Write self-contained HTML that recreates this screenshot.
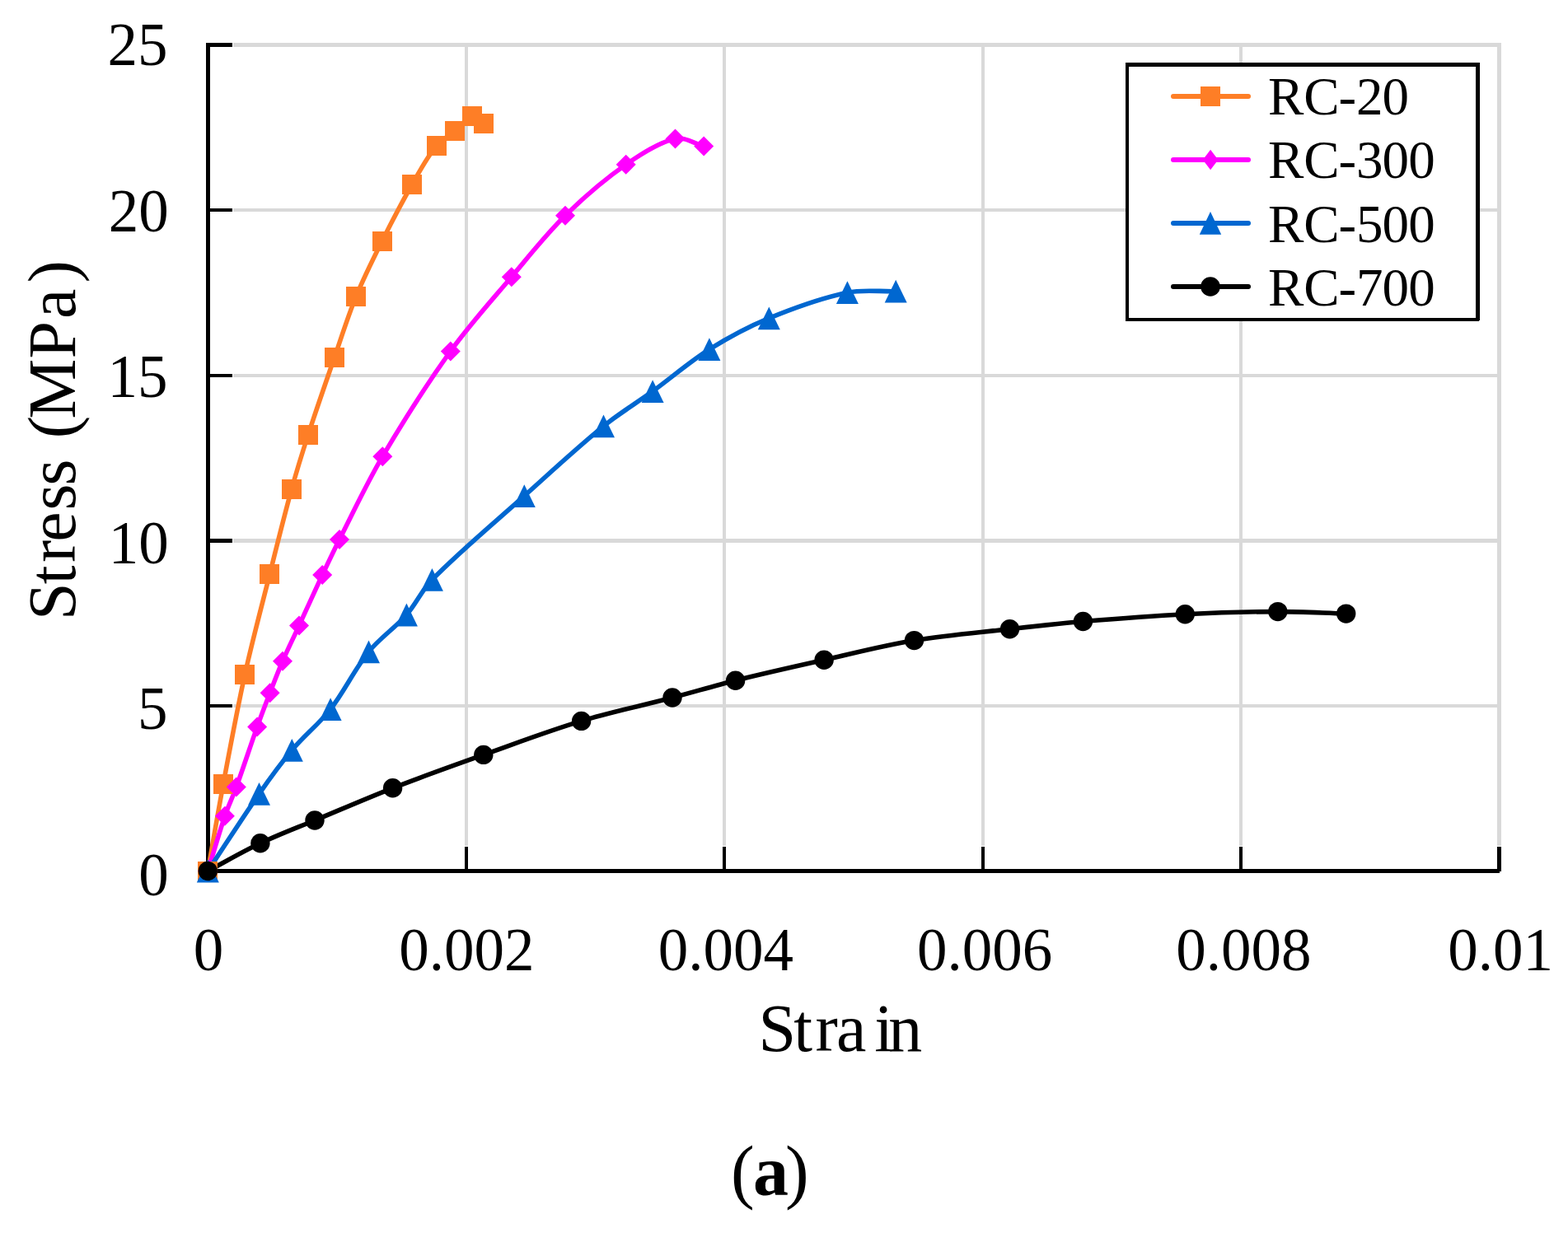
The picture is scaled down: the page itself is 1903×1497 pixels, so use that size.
<!DOCTYPE html><html><head><meta charset="utf-8"><title>Stress-strain curves</title><style>html,body{margin:0;padding:0;background:#fff;}svg{display:block;}text{font-family:"Liberation Serif","Times New Roman",serif;fill:#000;}</style></head><body>
<svg width="1903" height="1497" viewBox="0 0 1903 1497">
<rect width="1903" height="1497" fill="#fff"/>
<g fill="#D9D9D9"><rect x="283" y="52" width="1539" height="5"/><rect x="283" y="253" width="1539" height="4"/><rect x="283" y="454" width="1539" height="4"/><rect x="283" y="654" width="1539" height="5"/><rect x="283" y="855" width="1539" height="4"/><rect x="564" y="52" width="4" height="975"/><rect x="877" y="52" width="4" height="975"/><rect x="1191" y="52" width="4" height="975"/><rect x="1504" y="52" width="4" height="975"/><rect x="1817" y="52" width="5" height="975"/></g>
<g fill="#000"><rect x="250" y="52" width="32" height="5"/><rect x="250" y="253" width="32" height="4"/><rect x="250" y="454" width="32" height="4"/><rect x="250" y="654" width="32" height="5"/><rect x="250" y="855" width="32" height="4"/><rect x="564" y="1028" width="4" height="27"/><rect x="877" y="1028" width="4" height="27"/><rect x="1191" y="1028" width="4" height="27"/><rect x="1504" y="1028" width="4" height="27"/><rect x="1817" y="1028" width="5" height="30"/><rect x="250" y="52" width="5" height="1008"/><rect x="250" y="1055" width="1570" height="5"/></g>
<path d="M252.3 1057.5C258.5 1022.3 264.4 987 271 951.9C279.3 907.6 287.4 863.3 297.1 819.3C306.2 778.3 317.1 737.7 327.4 697C336 662.7 344.4 628.4 353.8 594.3C360 571.9 366.9 549.6 374.1 527.5C384.3 496.2 395.1 465.1 405.9 434C414.4 409.4 422.1 384.5 431.9 360.5C441.3 337.4 452.5 315 463.7 292.7C475.3 269.5 487.3 246.5 500.1 224C509.2 207.9 518.1 191.2 529.6 177C535.6 169.5 545 165.2 552.5 159C559.5 153.2 565.8 142.8 573 140.9C577.3 139.7 582.3 146.8 587 149.8" stroke="#FE7E26" stroke-width="5.6" fill="none" stroke-linejoin="round" stroke-linecap="round"/>
<path d="M252.3 1057.5C259.2 1035.3 265.4 1012.8 272.9 990.8C276.9 978.9 282.5 967.5 286.8 955.6C295.6 931.4 303.4 906.9 312.1 882.6C317 868.8 322.3 855 327.6 841.3C332.6 828.4 337.5 815.4 343 802.7C349.3 788.1 356.4 773.9 363 759.5C372.4 739 381.6 718.5 391.2 698.1C398 683.7 404.8 669.2 412 655C429.1 621.3 445.1 586.8 464.3 554.2C490 510.6 517.3 467.5 546.8 426.4C569.4 394.9 595.7 365.9 620.8 336.2C642.1 311 662.5 284.8 686 261.8C708.8 239.4 733.5 218.1 759.7 199.8C778 187 798.9 173.3 819.5 168.4C830.4 165.8 842.6 174.4 854.2 177.4" stroke="#FF00FF" stroke-width="5.6" fill="none" stroke-linejoin="round" stroke-linecap="round"/>
<path d="M252.3 1057.5C273 1026.3 293.1 994.6 314.5 963.8C327.1 945.7 340.1 927.7 354.3 910.8C368.9 893.4 387.2 879 401.1 861.1C418.2 839.1 430.1 812.9 447.5 791.3C460.8 774.7 479.3 762.5 493.4 746.5C505 733.3 512.1 716.3 524.4 703.8C559.7 668.1 598.8 635.7 636.3 602.1C668.1 573.6 699.4 544.4 732.5 517.4C751.4 502 772.4 489.4 792.1 475.1C815.2 458.3 836.8 439.3 860.9 424.1C883.9 409.7 908.2 396.6 933.3 386.3C964 373.7 996.1 362 1028.4 355.2C1047.4 351.2 1067.6 354.2 1087.2 353.7" stroke="#0067D0" stroke-width="5.6" fill="none" stroke-linejoin="round" stroke-linecap="round"/>
<path d="M252.3 1057.5C273.5 1046.3 294.2 1034.1 315.9 1023.8C337.5 1013.6 359.9 1005.2 382 996C413.5 982.9 444.8 969.2 476.6 956.8C513.1 942.6 549.9 929.5 586.8 916.4C626.3 902.4 665.5 887.5 705.6 875.4C741.9 864.4 779.3 856.7 816 847C841.6 840.3 866.9 832.6 892.6 826.2C928.3 817.3 964.2 809.3 1000.1 801.3C1036.5 793.1 1072.7 783.7 1109.5 777.6C1147.9 771.2 1186.8 768.1 1225.5 763.7C1255.1 760.4 1284.7 757 1314.4 754.5C1355.7 751 1397 747.8 1438.3 745.7C1475.8 743.8 1513.3 742.7 1550.8 742.6C1578.4 742.5 1606.1 744.3 1633.7 745.1" stroke="#000000" stroke-width="5.6" fill="none" stroke-linejoin="round" stroke-linecap="round"/>
<rect x="240" y="1046" width="24" height="24" fill="#FE7E26"/><rect x="259" y="940" width="24" height="24" fill="#FE7E26"/><rect x="285" y="807" width="24" height="24" fill="#FE7E26"/><rect x="315" y="685" width="24" height="24" fill="#FE7E26"/><rect x="342" y="582" width="24" height="24" fill="#FE7E26"/><rect x="362" y="516" width="24" height="24" fill="#FE7E26"/><rect x="394" y="422" width="24" height="24" fill="#FE7E26"/><rect x="420" y="348" width="24" height="24" fill="#FE7E26"/><rect x="452" y="281" width="24" height="24" fill="#FE7E26"/><rect x="488" y="212" width="24" height="24" fill="#FE7E26"/><rect x="518" y="165" width="24" height="24" fill="#FE7E26"/><rect x="540" y="147" width="24" height="24" fill="#FE7E26"/><rect x="561" y="129" width="24" height="24" fill="#FE7E26"/><rect x="575" y="138" width="24" height="24" fill="#FE7E26"/>
<path d="M252.3 1045.5L264.3 1057.5L252.3 1069.5L240.3 1057.5Z" fill="#FF00FF"/><path d="M272.9 978.8L284.9 990.8L272.9 1002.8L260.9 990.8Z" fill="#FF00FF"/><path d="M286.8 943.6L298.8 955.6L286.8 967.6L274.8 955.6Z" fill="#FF00FF"/><path d="M312.1 870.6L324.1 882.6L312.1 894.6L300.1 882.6Z" fill="#FF00FF"/><path d="M327.6 829.3L339.6 841.3L327.6 853.3L315.6 841.3Z" fill="#FF00FF"/><path d="M343 790.7L355 802.7L343 814.7L331 802.7Z" fill="#FF00FF"/><path d="M363 747.5L375 759.5L363 771.5L351 759.5Z" fill="#FF00FF"/><path d="M391.2 686.1L403.2 698.1L391.2 710.1L379.2 698.1Z" fill="#FF00FF"/><path d="M412 643L424 655L412 667L400 655Z" fill="#FF00FF"/><path d="M464.3 542.2L476.3 554.2L464.3 566.2L452.3 554.2Z" fill="#FF00FF"/><path d="M546.8 414.4L558.8 426.4L546.8 438.4L534.8 426.4Z" fill="#FF00FF"/><path d="M620.8 324.2L632.8 336.2L620.8 348.2L608.8 336.2Z" fill="#FF00FF"/><path d="M686 249.8L698 261.8L686 273.8L674 261.8Z" fill="#FF00FF"/><path d="M759.7 187.8L771.7 199.8L759.7 211.8L747.7 199.8Z" fill="#FF00FF"/><path d="M819.5 156.4L831.5 168.4L819.5 180.4L807.5 168.4Z" fill="#FF00FF"/><path d="M854.2 165.4L866.2 177.4L854.2 189.4L842.2 177.4Z" fill="#FF00FF"/>
<path d="M252.3 1043.6L265.8 1071.4L238.8 1071.4Z" fill="#0067D0"/><path d="M314.5 949.9L328 977.7L301 977.7Z" fill="#0067D0"/><path d="M354.3 896.9L367.8 924.7L340.8 924.7Z" fill="#0067D0"/><path d="M401.1 847.2L414.6 875L387.6 875Z" fill="#0067D0"/><path d="M447.5 777.4L461 805.2L434 805.2Z" fill="#0067D0"/><path d="M493.4 732.6L506.9 760.4L479.9 760.4Z" fill="#0067D0"/><path d="M524.4 689.9L537.9 717.7L510.9 717.7Z" fill="#0067D0"/><path d="M636.3 588.2L649.8 616L622.8 616Z" fill="#0067D0"/><path d="M732.5 503.5L746 531.3L719 531.3Z" fill="#0067D0"/><path d="M792.1 461.2L805.6 489L778.6 489Z" fill="#0067D0"/><path d="M860.9 410.2L874.4 438L847.4 438Z" fill="#0067D0"/><path d="M933.3 372.4L946.8 400.2L919.8 400.2Z" fill="#0067D0"/><path d="M1028.4 341.3L1041.9 369.1L1014.9 369.1Z" fill="#0067D0"/><path d="M1087.2 339.8L1100.7 367.6L1073.7 367.6Z" fill="#0067D0"/>
<circle cx="252.3" cy="1057.5" r="11.7" fill="#000000"/><circle cx="315.9" cy="1023.8" r="11.7" fill="#000000"/><circle cx="382" cy="996" r="11.7" fill="#000000"/><circle cx="476.6" cy="956.8" r="11.7" fill="#000000"/><circle cx="586.8" cy="916.4" r="11.7" fill="#000000"/><circle cx="705.6" cy="875.4" r="11.7" fill="#000000"/><circle cx="816" cy="847" r="11.7" fill="#000000"/><circle cx="892.6" cy="826.2" r="11.7" fill="#000000"/><circle cx="1000.1" cy="801.3" r="11.7" fill="#000000"/><circle cx="1109.5" cy="777.6" r="11.7" fill="#000000"/><circle cx="1225.5" cy="763.7" r="11.7" fill="#000000"/><circle cx="1314.4" cy="754.5" r="11.7" fill="#000000"/><circle cx="1438.3" cy="745.7" r="11.7" fill="#000000"/><circle cx="1550.8" cy="742.6" r="11.7" fill="#000000"/><circle cx="1633.7" cy="745.1" r="11.7" fill="#000000"/>
<text x="203.6" y="79.2" font-size="73" text-anchor="end">25</text>
<text x="204.8" y="281.2" font-size="73" text-anchor="end">20</text>
<text x="203.6" y="482.1" font-size="73" text-anchor="end">15</text>
<text x="204.8" y="684" font-size="73" text-anchor="end">10</text>
<text x="203.6" y="885.1" font-size="73" text-anchor="end">5</text>
<text x="204.8" y="1087" font-size="73" text-anchor="end">0</text>
<text x="252.9" y="1178" font-size="73" text-anchor="middle">0</text>
<text x="566.4" y="1178" font-size="73" text-anchor="middle">0.002</text>
<text x="880.8" y="1178" font-size="73" text-anchor="middle">0.004</text>
<text x="1195" y="1178" font-size="73" text-anchor="middle">0.006</text>
<text x="1509.3" y="1178" font-size="73" text-anchor="middle">0.008</text>
<text x="1821" y="1178" font-size="73" text-anchor="middle">0.01</text>
<text x="920.4 963.3 989.5 1015 1061.2 1078.3" y="1276" font-size="82">Strain</text>
<text transform="translate(90.8 747.6) rotate(-90)" x="-5.5 38.3 64.5 89.8 128.2 158.2 190.1 215.4 239 312 360.5 404.1" y="0" font-size="82">Stress (MPa)</text>
<text y="1451" font-size="86"><tspan x="887.1">(</tspan><tspan x="914.1" font-weight="bold">a</tspan><tspan x="953.1">)</tspan></text>
<rect x="1366" y="76" width="430" height="314" fill="#fff"/><g fill="#000"><rect x="1366" y="76" width="430" height="5"/><rect x="1366" y="386" width="429" height="4"/><rect x="1366" y="76" width="4" height="314"/><rect x="1791" y="76" width="5" height="313"/></g>
<path d="M1424 117H1515" stroke="#FE7E26" stroke-width="6" stroke-linecap="round"/>
<rect x="1457" y="105" width="24" height="24" fill="#FE7E26"/>
<text x="1539.1 1582.2 1624.5 1646 1677.5" y="138.8" font-size="65">RC-20</text>
<path d="M1424 194H1515" stroke="#FF00FF" stroke-width="6" stroke-linecap="round"/>
<path d="M1469.1 181.8L1478.4 194L1469.1 206.2L1459.8 194Z" fill="#FF00FF"/>
<text x="1539.1 1582.2 1624.5 1646 1677.5 1709.2" y="216.4" font-size="65">RC-300</text>
<path d="M1424 271.1H1515" stroke="#0067D0" stroke-width="6" stroke-linecap="round"/>
<path d="M1469 256.9L1482.2 284.7L1455.8 284.7Z" fill="#0067D0"/>
<text x="1539.1 1582.2 1624.5 1646 1677.5 1709.2" y="293.8" font-size="65">RC-500</text>
<path d="M1424 348H1515" stroke="#000000" stroke-width="6" stroke-linecap="round"/>
<circle cx="1469" cy="348" r="11.8" fill="#000000"/>
<text x="1539.1 1582.2 1624.5 1646 1677.5 1709.2" y="371.2" font-size="65">RC-700</text>
</svg></body></html>
